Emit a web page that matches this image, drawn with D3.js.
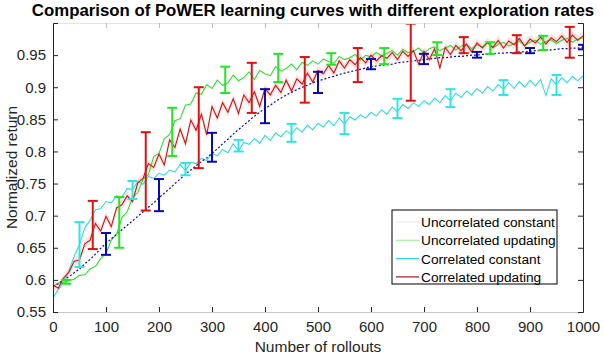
<!DOCTYPE html>
<html>
<head>
<meta charset="utf-8">
<script src="https://cdn.jsdelivr.net/npm/d3@7/dist/d3.min.js"></script>
<style>
  body { margin: 0; background: #fff; }
  svg { display: block; font-family: "Liberation Sans", Arial, sans-serif; }
</style>
</head>
<body>
<script>
// rollouts sampled every 10
const rollouts = d3.range(0, 1001, 10);

const uncorrConst = [
  .590, .594, .600, .605, .611, .617, .625, .632, .640, .649, .657, .664, .671, .678, .685, .692, .699, .706, .713, .720,
  .728, .735, .742, .750, .757, .765, .771, .778, .784, .790, .797, .804, .812, .819, .827, .834, .841, .848, .855, .861,
  .867, .872, .878, .883, .888, .892, .896, .900, .903, .907, .910, .912, .915, .917, .920, .922, .924, .926, .928, .930,
  .932, .933, .934, .935, .936, .938, .939, .940, .941, .942, .943, .944, .945, .946, .946, .947, .948, .948, .949, .950,
  .950, .951, .951, .952, .953, .953, .954, .954, .955, .955, .956, .957, .957, .958, .958, .959, .960, .960, .961, .961, .962
];

const uncorrUpd = [
  .590, .595, .596, .599, .601, .607, .608, .617, .621, .633, .641, .662, .671, .697, .706, .728, .736, .757, .764, .792,
  .797, .820, .826, .848, .851, .872, .874, .891, .889, .904, .898, .911, .903, .907, .919, .910, .915, .924, .912, .926,
  .921, .918, .932, .925, .929, .936, .927, .939, .934, .941, .936, .944, .940, .937, .948, .943, .946, .951, .942, .950,
  .947, .954, .949, .953, .957, .950, .959, .954, .956, .961, .953, .960, .963, .957, .961, .965, .958, .964, .967, .960,
  .966, .963, .969, .961, .967, .970, .964, .968, .972, .965, .970, .973, .967, .971, .974, .968, .973, .976, .970, .975, .977
];

const corrConst = [
  .572, .585, .596, .614, .637, .655, .681, .693, .709, .711, .722, .720, .731, .729, .742, .741, .753, .749, .761, .758,
  .766, .763, .771, .768, .780, .770, .783, .781, .789, .786, .797, .793, .803, .798, .812, .801, .814, .811, .820, .813,
  .825, .817, .829, .823, .832, .827, .837, .830, .841, .834, .844, .838, .848, .840, .852, .843, .854, .849, .857, .852,
  .861, .855, .865, .858, .869, .862, .873, .867, .876, .870, .879, .873, .883, .876, .887, .879, .891, .884, .894, .888,
  .898, .891, .901, .894, .904, .897, .907, .898, .909, .900, .911, .902, .912, .887, .913, .904, .915, .907, .917, .910, .918
];

const corrUpd = [
  .592, .587, .603, .612, .629, .631, .656, .662, .688, .676, .699, .683, .712, .717, .731, .722, .751, .758, .781, .775,
  .796, .779, .818, .806, .835, .812, .849, .833, .858, .826, .870, .852, .876, .861, .882, .859, .888, .876, .893, .870,
  .898, .888, .903, .892, .911, .894, .913, .905, .922, .908, .926, .921, .934, .922, .941, .930, .943, .935, .946, .938,
  .950, .941, .949, .945, .954, .943, .956, .948, .957, .936, .956, .943, .960, .930, .962, .951, .965, .957, .967, .955,
  .969, .961, .970, .962, .973, .961, .972, .966, .976, .964, .975, .969, .978, .967, .977, .971, .980, .970, .981, .973, .980
];

// error bars: rollout, low, high
const uncorrConstErrX = [100, 200, 300, 400, 500, 600, 700, 800, 900, 1000];
const uncorrConstErrLo = [.639, .707, .784, .844, .891, .928, .936, .946, .953, .959];
const uncorrConstErrHi = [.673, .757, .829, .897, .924, .944, .952, .955, .961, .966];

const uncorrUpdErrX = [25, 125, 225, 325, 425, 525, 625, 725, 825, 925];
const uncorrUpdErrLo = [.594, .650, .793, .891, .908, .935, .936, .950, .952, .958];
const uncorrUpdErrHi = [.600, .729, .868, .932, .952, .953, .961, .970, .970, .980];

const corrConstErrX = [50, 150, 250, 350, 450, 550, 650, 750, 850, 950];
const corrConstErrLo = [.620, .726, .763, .800, .815, .827, .852, .869, .888, .888];
const corrConstErrHi = [.690, .754, .782, .818, .843, .860, .882, .897, .911, .919];

const corrUpdErrX = [75, 175, 275, 375, 475, 575, 675, 775, 875, 975];
const corrUpdErrLo = [.648, .708, .774, .860, .876, .908, .879, .953, .953, .946];
const corrUpdErrHi = [.723, .830, .900, .938, .947, .961, .999, .978, .981, .994];

const seriesNames = ['Uncorrelated constant', 'Uncorrelated updating', 'Correlated constant', 'Correlated updating'];
const xTicks = [0, 100, 200, 300, 400, 500, 600, 700, 800, 900, 1000];
const yTicks = [0.55, 0.6, 0.65, 0.7, 0.75, 0.8, 0.85, 0.9, 0.95];

const W = 604, H = 358;
const margin = {left: 53, right: 21, top: 23, bottom: 46};
const width = W - margin.left - margin.right;
const height = H - margin.top - margin.bottom;

const svg = d3.select('body').append('svg').attr('width', W).attr('height', H);
const g = svg.append('g').attr('transform', `translate(${margin.left},${margin.top})`);

const x = d3.scaleLinear().domain([0, 1000]).range([0, width]);
const y = d3.scaleLinear().domain([0.55, 1.0]).range([height, 0]);

g.append('defs').append('clipPath').attr('id', 'plot')
  .append('rect').attr('width', width).attr('height', height);

const plot = g.append('g').attr('clip-path', 'url(#plot)');

const line = d3.line().x((d, i) => x(rollouts[i])).y(d => y(d));

const series = [
  {data: uncorrConst, color: '#0a0ab4', dash: '2,2', width: 1.2,
   ex: uncorrConstErrX, lo: uncorrConstErrLo, hi: uncorrConstErrHi, ec: '#0a0ab4'},
  {data: uncorrUpd, color: '#2ee02e', dash: null, width: 1.1,
   ex: uncorrUpdErrX, lo: uncorrUpdErrLo, hi: uncorrUpdErrHi, ec: '#22e622'},
  {data: corrConst, color: '#30dede', dash: null, width: 1.1,
   ex: corrConstErrX, lo: corrConstErrLo, hi: corrConstErrHi, ec: '#30e4e4'},
  {data: corrUpd, color: '#c81414', dash: null, width: 1.1,
   ex: corrUpdErrX, lo: corrUpdErrLo, hi: corrUpdErrHi, ec: '#e01010'}
];

// faint pink band behind the correlated updating curve
plot.append('path')
  .datum(corrUpd)
  .attr('fill', '#fde2e2')
  .attr('d', d3.area().x((d, i) => x(rollouts[i])).y0(d => y(d - 0.007)).y1(d => y(d + 0.007)));

// draw order: cyan, green, blue, red
[2, 1, 0, 3].forEach(k => {
  const s = series[k];
  plot.append('path')
    .datum(s.data)
    .attr('fill', 'none')
    .attr('stroke', s.color)
    .attr('stroke-width', s.width)
    .attr('stroke-dasharray', s.dash)
    .attr('d', line);
});

// error bars
[2, 1, 0, 3].forEach(k => {
  const s = series[k];
  const eb = plot.append('g').attr('stroke', s.ec).attr('stroke-width', 2).attr('fill', 'none');
  s.ex.forEach((xv, i) => {
    const px = x(xv), top = y(s.hi[i]), bot = y(s.lo[i]);
    eb.append('line').attr('x1', px).attr('x2', px).attr('y1', top).attr('y2', bot);
    eb.append('line').attr('x1', px - 5).attr('x2', px + 5).attr('y1', top).attr('y2', top);
    eb.append('line').attr('x1', px - 5).attr('x2', px + 5).attr('y1', bot).attr('y2', bot);
  });
});

// axes box
const fmt = v => String(+v.toFixed(2));
const axB = g.append('g').attr('transform', `translate(0,${height})`)
  .call(d3.axisBottom(x).tickValues(xTicks).tickSize(-5).tickPadding(9).tickFormat(fmt));
const axT = g.append('g')
  .call(d3.axisTop(x).tickValues(xTicks).tickSize(-5).tickFormat(''));
const axL = g.append('g')
  .call(d3.axisLeft(y).tickValues(yTicks).tickSize(-5).tickPadding(7).tickFormat(fmt));
const axR = g.append('g').attr('transform', `translate(${width},0)`)
  .call(d3.axisRight(y).tickValues(yTicks).tickSize(-5).tickFormat(''));

[axB, axT, axL, axR].forEach(a => {
  a.selectAll('text').attr('font-size', 15).attr('fill', '#262626')
    .attr('font-family', '"Liberation Sans", Arial, sans-serif');
  a.selectAll('line').attr('stroke', '#262626');
});
axL.select('.domain').attr('stroke', '#262626');
axR.select('.domain').attr('stroke', '#262626');
axB.select('.domain').attr('stroke', '#c8c8c8');
axT.select('.domain').attr('stroke', '#e4e4e4');
axT.selectAll('line').attr('stroke', '#bbb');

// labels
svg.append('text')
  .attr('x', 313).attr('y', 16)
  .attr('text-anchor', 'middle')
  .attr('font-size', 16.8).attr('font-weight', 'bold').attr('fill', '#000')
  .text('Comparison of PoWER learning curves with different exploration rates');

svg.append('text')
  .attr('x', margin.left + width / 2).attr('y', 352)
  .attr('text-anchor', 'middle')
  .attr('font-size', 15.5).attr('fill', '#262626')
  .text('Number of rollouts');

svg.append('text')
  .attr('transform', `translate(17,${margin.top + height / 2}) rotate(-90)`)
  .attr('text-anchor', 'middle')
  .attr('font-size', 15.5).attr('fill', '#262626')
  .text('Normalized return');

// legend
const legendColors = ['#e8e8ff', '#a6f2a6', '#30dcdc', '#b01818'];
const leg = svg.append('g').attr('transform', 'translate(392,210)');
leg.append('rect').attr('width', 165).attr('height', 74)
  .attr('fill', '#fff').attr('stroke', '#000').attr('stroke-width', 1);
seriesNames.forEach((name, i) => {
  const ly = 12 + i * 18.3;
  leg.append('line').attr('x1', 4).attr('x2', 27).attr('y1', ly).attr('y2', ly)
    .attr('stroke', legendColors[i]).attr('stroke-width', 1.2);
  leg.append('text').attr('x', 29).attr('y', ly + 5)
    .attr('font-size', 13.7).attr('fill', '#000').text(name);
});
</script>
</body>
</html>
